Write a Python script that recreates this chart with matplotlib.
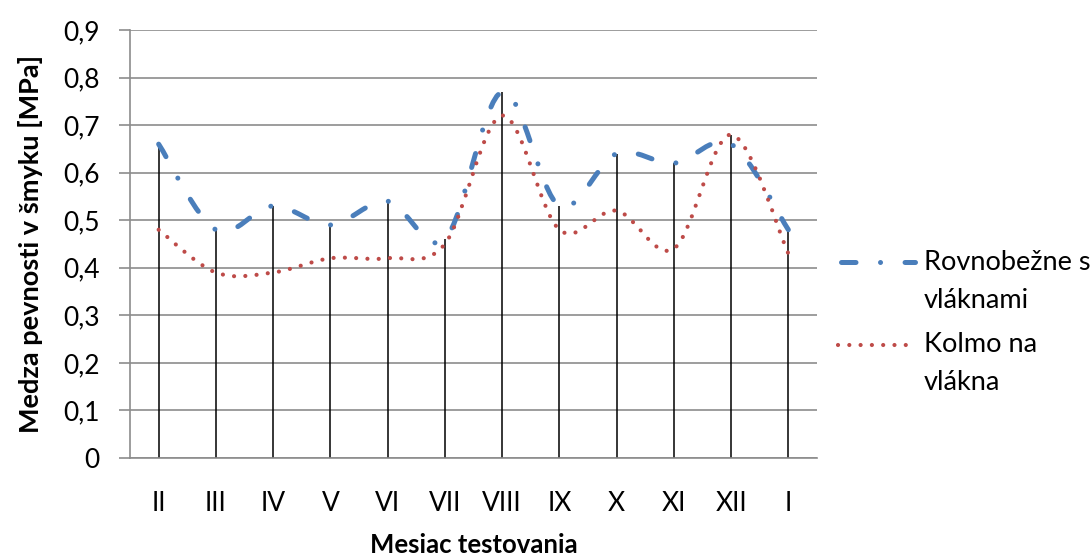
import matplotlib.pyplot as plt
from matplotlib.path import Path
from matplotlib.patches import PathPatch
from matplotlib.lines import Line2D
import numpy as np

plt.rcParams['font.family'] = ['Lato', 'DejaVu Sans']

mesiace = ["II", "III", "IV", "V", "VI", "VII", "VIII", "IX", "X", "XI", "XII", "I"]
rovnobezne = [0.66, 0.48, 0.53, 0.49, 0.54, 0.46, 0.77, 0.53, 0.64, 0.62, 0.66, 0.48]
kolmo = [0.48, 0.39, 0.39, 0.42, 0.42, 0.45, 0.72, 0.48, 0.52, 0.44, 0.68, 0.43]

modra = "#4A7EBB"
cervena = "#BE4B48"
siva = "#8c8c8c"


def hladka_cesta(x, y):
    # Bezierova krivka ako v Exceli (vyhladena ciara)
    p = np.column_stack([x, y]).astype(float)
    n = len(p)
    verts = [p[0]]
    codes = [Path.MOVETO]
    for i in range(n - 1):
        p0 = p[i - 1] if i > 0 else p[i]
        p1 = p[i]
        p2 = p[i + 1]
        p3 = p[i + 2] if i + 2 < n else p[i + 1]
        verts += [p1 + (p2 - p0) / 6, p2 - (p3 - p1) / 6, p2]
        codes += [Path.CURVE4] * 3
    return Path(verts, codes)


fig = plt.figure(figsize=(10.9, 5.59), dpi=100)
ax = fig.add_axes([0.1193, 0.1807, 0.6302, 0.7656])

x = np.arange(len(mesiace))
ax.set_xlim(-0.5, len(mesiace) - 0.5)
ax.set_ylim(0, 0.9)

# zvisle ciary (drop lines)
ax.vlines(x, 0, np.maximum(rovnobezne, kolmo), color="black", lw=1.1, zorder=2)

styl_modra = dict(color=modra, lw=3.6, ls=(0, (2.9, 4.9, 0.01, 4.9)))
styl_cervena = dict(color=cervena, lw=3.0, ls=(0, (0.01, 2.7)))

for hodnoty, styl in [(rovnobezne, styl_modra), (kolmo, styl_cervena)]:
    patch = PathPatch(hladka_cesta(x, hodnoty), fill=False, edgecolor=styl["color"],
                      linewidth=styl["lw"], linestyle=styl["ls"], capstyle="round",
                      zorder=3)
    ax.add_patch(patch)

ax.set_yticks(np.arange(0, 0.91, 0.1))
ax.set_yticklabels(["0" if v == 0 else f"{v:.1f}".replace(".", ",") for v in np.arange(0, 0.91, 0.1)])
ax.set_xticks(x)
ax.set_xticklabels(mesiace)
ax.tick_params(axis="y", length=8, width=1.2, color=siva, labelsize=19, pad=14)
ax.tick_params(axis="x", length=0, labelsize=19, pad=24)
ax.yaxis.grid(True, color=siva, lw=1.2)
ax.set_axisbelow(True)
for s in ["top", "right"]:
    ax.spines[s].set_visible(False)
for s in ["left", "bottom"]:
    ax.spines[s].set_color(siva)
    ax.spines[s].set_linewidth(1.2)

ax.set_ylabel("Medza pevnosti v šmyku [MPa]", fontsize=19.5, fontweight="bold", labelpad=14)
ax.set_xlabel("Mesiac testovania", fontsize=18.5, fontweight="bold", labelpad=12)


# legenda vpravo
def pol(px, py):
    return px / 1090, 1 - py / 559


for (y0, styl, x_od, x_do, riadky) in [(262, styl_modra, 841, 915, ["Rovnobežne s", "vláknami"]),
                                       (345, styl_cervena, 838, 911, ["Kolmo na", "vlákna"])]:
    xa, ya = pol(x_od, y0)
    xb, _ = pol(x_do, y0)
    fig.add_artist(Line2D([xa, xb], [ya, ya], transform=fig.transFigure,
                          color=styl["color"], lw=styl["lw"], ls=styl["ls"],
                          dash_capstyle="round"))
    for k, t in enumerate(riadky):
        tx, ty = pol(924, y0 + k * 38)
        fig.text(tx, ty, t, fontsize=19.5, va="center", ha="left")

fig.savefig("out.png", dpi=100)
